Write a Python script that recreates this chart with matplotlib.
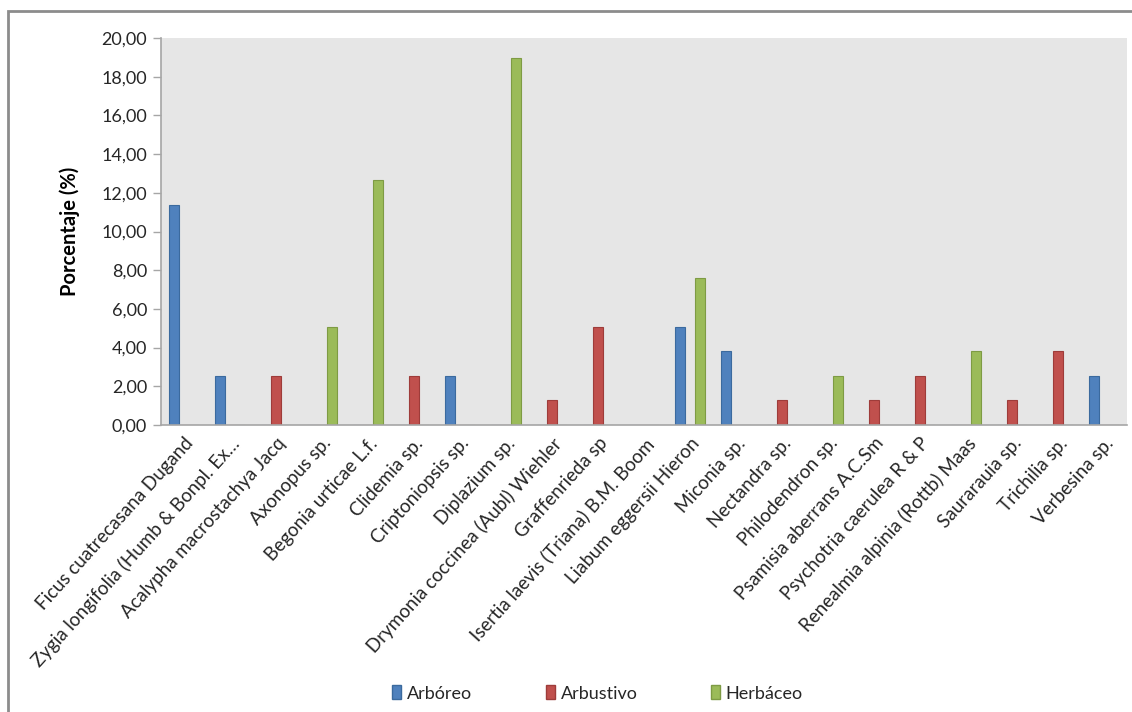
"""
Bar chart: percentage of individuals per species, split by growth habit.
Writes out.png in the current folder.
"""

import matplotlib

matplotlib.use('Agg')

import matplotlib.pyplot as plt
import numpy as np
from matplotlib.patches import Patch, Rectangle
from matplotlib.ticker import FuncFormatter

# ----------------------------------------------------------------------------
# Data
# ----------------------------------------------------------------------------

species = [
    'Ficus cuatrecasana Dugand',
    'Zygia longifolia (Humb & Bonpl. Ex…',
    'Acalypha macrostachya Jacq',
    'Axonopus sp.',
    'Begonia urticae L.f.',
    'Clidemia sp.',
    'Criptoniopsis sp.',
    'Diplazium sp.',
    'Drymonia coccinea (Aubl) Wiehler',
    'Graffenrieda sp',
    'Isertia laevis (Triana) B.M. Boom',
    'Liabum eggersii Hieron',
    'Miconia sp.',
    'Nectandra sp.',
    'Philodendron sp.',
    'Psamisia aberrans A.C.Sm',
    'Psychotria caerulea R & P',
    'Renealmia alpinia (Rottb) Maas',
    'Saurarauia sp.',
    'Trichilia sp.',
    'Verbesina sp.',
]

arboreo = [11.39, 2.53, 0, 0, 0, 0, 2.53, 0, 0, 0, 0,
           5.06, 3.80, 0, 0, 0, 0, 0, 0, 0, 2.53]
arbustivo = [0, 0, 2.53, 0, 0, 2.53, 0, 0, 1.27, 5.06, 0,
             0, 0, 1.27, 0, 1.27, 2.53, 0, 1.27, 3.80, 0]
herbaceo = [0, 0, 0, 5.06, 12.66, 0, 0, 18.99, 0, 0, 0,
            7.59, 0, 0, 2.53, 0, 0, 3.80, 0, 0, 0]

series_names = ['Arbóreo', 'Arbustivo', 'Herbáceo']
y_ticks = [0, 2, 4, 6, 8, 10, 12, 14, 16, 18, 20]

# ----------------------------------------------------------------------------
# Style
# ----------------------------------------------------------------------------

FILL = ['#4F81BD', '#C0504D', '#9BBB59']
EDGE = ['#3B6A9E', '#9E3C3A', '#7E9B44']
TEXT = '#262626'
AXIS = '#A6A6A6'

plt.rcParams['font.family'] = ['Lato', 'DejaVu Sans']


def comma_fmt(v, _pos):
    return f'{v:.2f}'.replace('.', ',')


def main():
    fig = plt.figure(figsize=(11.32, 7.12), dpi=100)
    ax = fig.add_axes([0.1422, 0.4031, 0.8534, 0.5435])

    # outer chart frame, like the spreadsheet chart border
    fig.patches.append(Rectangle((8 / 1132, -0.05), 1.2, 1 - 11 / 712 + 0.05,
                                 transform=fig.transFigure, fill=False,
                                 edgecolor='#8C8C8C', linewidth=2.0))

    x = np.arange(len(species))
    width = 0.217
    for i, (vals, name) in enumerate(zip([arboreo, arbustivo, herbaceo], series_names)):
        ax.bar(x + (i - 1) * width, vals, width=width, color=FILL[i],
               edgecolor=EDGE[i], linewidth=0.8, label=name, zorder=2)

    ax.set_facecolor('#E6E6E6')
    ax.set_xlim(-0.5, len(species) - 0.5)
    ax.set_ylim(0, 20)
    ax.set_yticks(y_ticks)
    ax.yaxis.set_major_formatter(FuncFormatter(comma_fmt))

    for side in ('top', 'right'):
        ax.spines[side].set_visible(False)
    for side in ('left', 'bottom'):
        ax.spines[side].set_color(AXIS)
        ax.spines[side].set_linewidth(1.2)

    ax.tick_params(axis='y', length=6, width=1, color=AXIS, labelsize=13,
                   labelcolor=TEXT, pad=4)
    ax.tick_params(axis='x', length=0, pad=7)
    ax.set_xticks(x)
    ax.set_xticklabels(species, rotation=48, ha='right', rotation_mode='anchor',
                       fontsize=13.5, color=TEXT)

    ax.set_ylabel('Porcentaje (%)', fontsize=14.5, fontweight='bold', color='black',
                  labelpad=15)

    handles = [Patch(facecolor=FILL[i], edgecolor=EDGE[i], label=series_names[i])
               for i in range(3)]
    fig.legend(handles=handles, loc='center', bbox_to_anchor=(0.528, 0.026),
               ncol=3, frameon=False, fontsize=13, handlelength=0.5,
               handleheight=0.8, handletextpad=0.3, columnspacing=4.1,
               labelcolor=TEXT)

    fig.savefig('out.png', dpi=100)
    plt.close(fig)


if __name__ == '__main__':
    main()
